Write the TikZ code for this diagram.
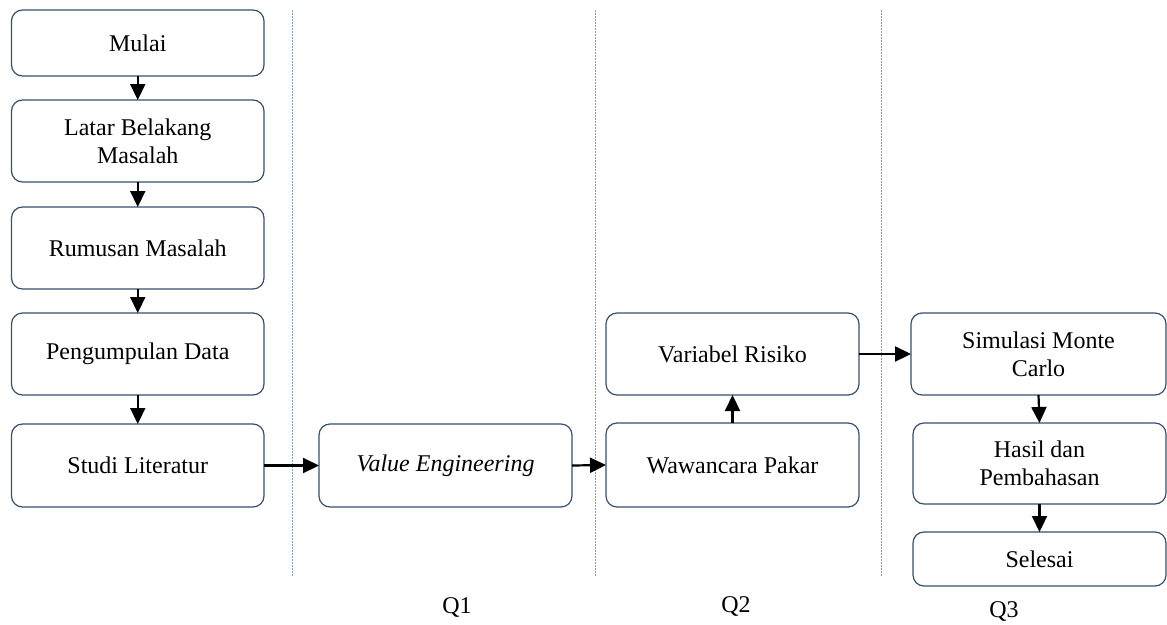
\documentclass[tikz,border=0pt]{standalone}
\usepackage{fontspec}
\setmainfont{Liberation Serif}
\usetikzlibrary{arrows.meta}
\definecolor{boxline}{HTML}{34506F}
\definecolor{sepline}{HTML}{7E9CC8}
\begin{document}
\begin{tikzpicture}[x=1pt,y=-1pt,
  box/.style={draw=boxline, line width=1.2pt, rounded corners=11pt, align=center,
    font=\fontsize{24}{28}\selectfont, inner sep=0pt, outer sep=0pt},
  flow/.style={line width=2.2pt, -{Triangle[length=16pt,width=15pt]}},
  sep/.style={draw=sepline, line width=1pt, dash pattern=on 1.5pt off 1.5pt},
  qlabel/.style={font=\fontsize{24}{28}\selectfont, inner sep=0pt}]
  \useasboundingbox (0,0) rectangle (1167,624);

  % left column
  \node[box, minimum width=252.5pt, minimum height=66pt] (mulai) at (137.75,43) {Mulai};
  \node[box, minimum width=252.5pt, minimum height=82pt] (latar) at (137.75,141) {Latar Belakang\\Masalah};
  \node[box, minimum width=252.5pt, minimum height=82pt] (rumus) at (137.75,248) {Rumusan Masalah};
  \node[box, minimum width=252.5pt, minimum height=82pt] (data) at (137.75,354) {Pengumpulan Data};
  \node[box, minimum width=252.5pt, minimum height=83pt] (studi) at (137.75,465.5) {Studi Literatur};

  % Q1
  \node[box, minimum width=253pt, minimum height=83pt] (ve) at (445.5,465.5) {\itshape Value Engineering};

  % Q2
  \node[box, minimum width=253pt, minimum height=84pt] (pakar) at (732.5,465) {Wawancara Pakar};
  \node[box, minimum width=253pt, minimum height=82pt] (risiko) at (732.5,354) {Variabel Risiko};

  % Q3
  \node[box, minimum width=255pt, minimum height=82pt] (monte) at (1038.5,354) {Simulasi Monte\\Carlo};
  \node[box, minimum width=253pt, minimum height=81pt] (hasil) at (1039.5,463.5) {Hasil dan\\Pembahasan};
  \node[box, minimum width=253pt, minimum height=54pt] (selesai) at (1039.5,559) {Selesai};

  % phase separators
  \coordinate (s1t) at (292,10);  \coordinate (s1b) at (292,577);
  \coordinate (s2t) at (595,10);  \coordinate (s2b) at (595,577);
  \coordinate (s3t) at (881,10);  \coordinate (s3b) at (881,577);
  \draw[sep] (s1t) -- (s1b);
  \draw[sep] (s2t) -- (s2b);
  \draw[sep] (s3t) -- (s3b);

  % phase labels
  \node[qlabel] (q1) at (457,607) {Q1};
  \node[qlabel] (q2) at (736,606) {Q2};
  \node[qlabel] (q3) at (1004,611) {Q3};

  % flow
  \draw[flow] (mulai) -- (latar);
  \draw[flow] (latar) -- (rumus);
  \draw[flow] (rumus) -- (data);
  \draw[flow] (data) -- (studi);
  \draw[flow] (studi) -- (ve);
  \draw[flow] (ve.east) -- (pakar.west);
  \draw[flow] (pakar) -- (risiko);
  \draw[flow] (risiko) -- (monte);
  \draw[flow] (monte.south) -- (hasil.north);
  \draw[flow] (hasil) -- (selesai);
\end{tikzpicture}
\end{document}
